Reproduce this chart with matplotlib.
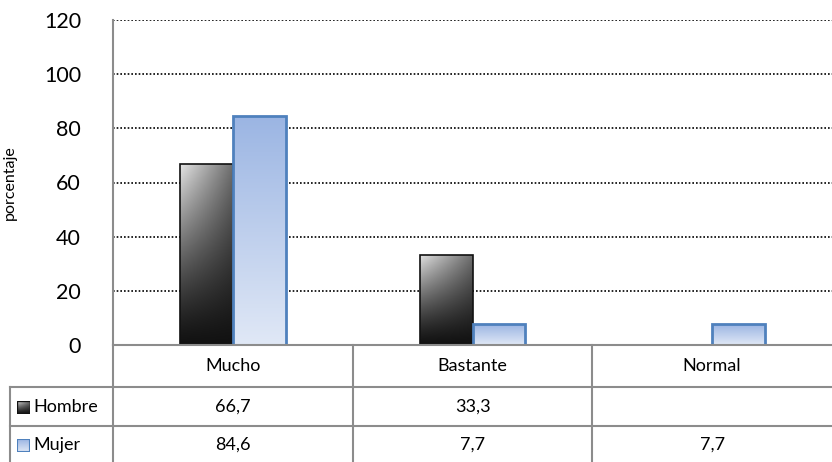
import matplotlib
matplotlib.use("Agg")
import matplotlib.pyplot as plt
import matplotlib.transforms as mtransforms
from matplotlib.patches import Rectangle
from matplotlib.lines import Line2D
import numpy as np

categories = ["Mucho", "Bastante", "Normal"]
series_names = ["Hombre", "Mujer"]
hombre = [66.7, 33.3, None]
mujer = [84.6, 7.7, 7.7]
yticks = [0, 20, 40, 60, 80, 100, 120]

W, H = 832, 462
plt.rcParams['font.family'] = ['Lato', 'DejaVu Sans']
fig = plt.figure(figsize=(W / 100, H / 100), dpi=100)

def fx(px):
    return px / W

def fy(py):
    return 1 - py / H

ax = fig.add_axes([fx(113), fy(345), fx(832) - fx(113), fy(20) - fy(345)])
ax.set_xlim(-0.5, len(categories) - 0.5)
ax.set_ylim(0, 120)
ax.set_yticks(yticks)
ax.set_yticklabels([str(t) for t in yticks], fontsize=15.5)
ax.tick_params(axis='y', length=0, pad=23)
ax.set_xticks([])
for s in ['top', 'right', 'bottom']:
    ax.spines[s].set_visible(False)
ax.spines['left'].set_color('#8c8c8c')
ax.spines['left'].set_linewidth(1.5)
for t in yticks[1:]:
    ax.axhline(t, color='black', lw=1.2, ls=(0, (1, 1.2)), zorder=1)

bw = 0.22
x = np.arange(len(categories))

# gradient images
ny, nx = 100, 40
yy, xx = np.mgrid[0:1:ny * 1j, 0:1:nx * 1j]  # yy=0 bottom
val_h = np.clip(0.07 + 0.82 * yy ** 1.3 * (1 - 0.55 * xx), 0, 1)
img_h = np.dstack([val_h, val_h, val_h])
top_b = np.array([0x9b, 0xb5, 0xe3]) / 255
bot_b = np.array([0xe0, 0xe8, 0xf6]) / 255
img_b = bot_b[None, None, :] * (1 - yy[..., None]) + top_b[None, None, :] * yy[..., None]

def gbar(x0, h, img, edge, lw):
    if h is None:
        return
    rect = Rectangle((x0, 0), bw, h, facecolor='none', edgecolor=edge, lw=lw, zorder=4)
    ax.add_patch(rect)
    im = ax.imshow(img, extent=(x0, x0 + bw, 0, h), origin='lower', aspect='auto', zorder=3,
                   interpolation='bilinear')
    im.set_clip_path(rect)

for i in range(len(categories)):
    gbar(x[i] - bw, hombre[i], img_h, '#111111', 1.2)
    gbar(x[i], mujer[i], img_b, '#4f81bd', 2.0)
ax.set_xlim(-0.5, len(categories) - 0.5)
ax.set_ylim(0, 120)

fig.text(fx(10), fy(183), 'porcentaje', rotation=90, ha='center', va='center', fontsize=11.5)

# data table
gc = '#8c8c8c'
blend = mtransforms.blended_transform_factory(ax.transData, fig.transFigure)
row_y = [345, 387, 426, 462]
fig.add_artist(Line2D([fx(113), 1], [fy(345), fy(345)], color=gc, lw=1.5))
for yv in row_y[1:3]:
    fig.add_artist(Line2D([fx(10), 1], [fy(yv), fy(yv)], color=gc, lw=1.5))
fig.add_artist(Line2D([fx(10), fx(10)], [fy(387), 0], color=gc, lw=1.5))
fig.add_artist(Line2D([fx(113), fx(113)], [fy(345), 0], color=gc, lw=1.5))
for i in range(1, len(categories)):
    fig.add_artist(Line2D([i - 0.5, i - 0.5], [fy(345), 0], color=gc, lw=1.5, transform=blend))

def fmt(v):
    return '' if v is None else f"{v:.1f}".replace('.', ',')

fs = 13
for i, c in enumerate(categories):
    fig.text(i, fy(366), c, transform=blend, ha='center', va='center', fontsize=fs)
    fig.text(i, fy(407), fmt(hombre[i]), transform=blend, ha='center', va='center', fontsize=fs)
    fig.text(i, fy(445), fmt(mujer[i]), transform=blend, ha='center', va='center', fontsize=fs)

# legend keys
kax = fig.add_axes([fx(17), fy(414), fx(13), fy(401) - fy(414)])
kax.imshow(img_h, origin='lower', aspect='auto', extent=(0, 1, 0, 1))
kax.add_patch(Rectangle((0, 0), 1, 1, fill=False, ec='#111111', lw=1))
kax.set_xlim(0, 1); kax.set_ylim(0, 1); kax.axis('off')
kax2 = fig.add_axes([fx(17), fy(452), fx(13), fy(439) - fy(452)])
kax2.imshow(img_b, origin='lower', aspect='auto', extent=(0, 1, 0, 1))
kax2.add_patch(Rectangle((0, 0), 1, 1, fill=False, ec='#4f81bd', lw=1.5))
kax2.set_xlim(0, 1); kax2.set_ylim(0, 1); kax2.axis('off')
fig.text(fx(33), fy(407), series_names[0], ha='left', va='center', fontsize=fs)
fig.text(fx(33), fy(445), series_names[1], ha='left', va='center', fontsize=fs)

fig.savefig('out.png', dpi=100)
